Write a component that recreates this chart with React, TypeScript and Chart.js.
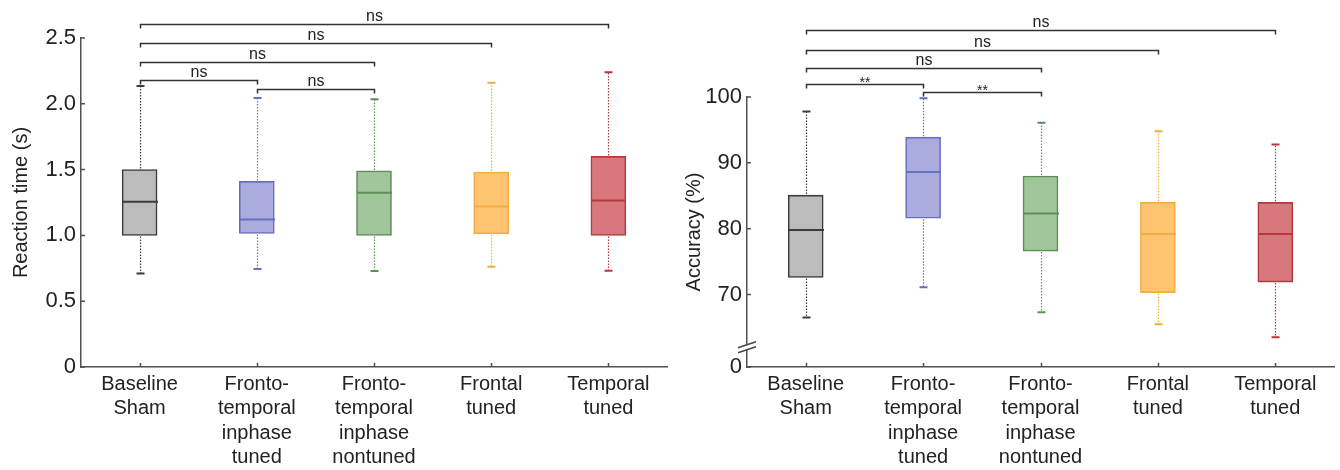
import React, { useEffect, useRef } from 'react';
import { Chart, registerables } from 'chart.js';
Chart.register(...registerables);

// ---------- data ----------
const categories: string[][] = [
  ['Baseline', 'Sham'],
  ['Fronto-', 'temporal', 'inphase', 'tuned'],
  ['Fronto-', 'temporal', 'inphase', 'nontuned'],
  ['Frontal', 'tuned'],
  ['Temporal', 'tuned'],
];

const fillColors = ['#bcbcbc', '#a9acdc', '#a2c69c', '#fec470', '#d9787c'];
const lineColors = ['#3c3c3c', '#6a6ebf', '#5e8f57', '#f3ad40', '#b5393f'];

// Reaction time (s)
const rtMin = [0.71, 0.745, 0.73, 0.762, 0.732];
const rtQ1 = [1.0, 1.015, 1.0, 1.012, 1.0];
const rtMedian = [1.255, 1.12, 1.325, 1.22, 1.265];
const rtQ3 = [1.5, 1.41, 1.49, 1.482, 1.6];
const rtMax = [2.135, 2.045, 2.035, 2.16, 2.24];
const rtTickValues = [0, 0.5, 1.0, 1.5, 2.0, 2.5];
const rtTickLabels = ['0', '0.5', '1.0', '1.5', '2.0', '2.5'];
const rtBracketFrom = [0, 0, 0, 0, 1];
const rtBracketTo = [4, 3, 2, 1, 2];
const rtBracketLevel = [2.606, 2.462, 2.318, 2.181, 2.112];
const rtBracketText = ['ns', 'ns', 'ns', 'ns', 'ns'];

// Accuracy (%)
const accMin = [66.5, 71.1, 67.3, 65.5, 63.5];
const accQ1 = [72.6, 81.6, 76.6, 70.3, 71.9];
const accMedian = [79.8, 88.6, 82.3, 79.2, 79.2];
const accQ3 = [85.1, 93.9, 88.0, 84.0, 84.0];
const accMax = [97.8, 99.8, 96.1, 94.8, 92.8];
const accTickValues = [59, 70, 80, 90, 100];
const accTickLabels = ['0', '70', '80', '90', '100'];
const accBreakValue = 62;
const accBracketFrom = [0, 0, 0, 0, 1];
const accBracketTo = [4, 3, 2, 1, 2];
const accBracketLevel = [110.1, 107.2, 104.4, 101.9, 100.8];
const accBracketText = ['ns', 'ns', 'ns', '**', '**'];

// ---------- chart ----------
const FONT = "'Liberation Sans', Arial, sans-serif";
const AXIS_COLOR = '#505050';
const TEXT_COLOR = '#222222';

type PanelProps = {
  left: number;
  title: string;
  q1: number[];
  q3: number[];
  median: number[];
  lo: number[];
  hi: number[];
  tickValues: number[];
  tickLabels: string[];
  yMin: number;
  yMax: number;
  bFrom: number[];
  bTo: number[];
  bLevel: number[];
  bText: string[];
  breakValue: number | null;
  axisX: number;
  padTop: number;
  padRight: number;
  titlePad: number;
};

function BoxPanel(p: PanelProps) {
  const ref = useRef<HTMLCanvasElement | null>(null);
  useEffect(() => {
    const canvas = ref.current;
    if (!canvas) return;
    const BOX_W = 35;
    const boxPlugin = {
      id: 'boxDecor',
      afterDatasetsDraw(chart: any) {
        const { ctx } = chart;
        const xs = chart.scales.x;
        const ys = chart.scales.y;
        ctx.save();
        for (let i = 0; i < p.q1.length; i++) {
          const x = Math.round(xs.getPixelForValue(i)) + 0.5;
          const col = lineColors[i];
          const yq1 = ys.getPixelForValue(p.q1[i]);
          const yq3 = ys.getPixelForValue(p.q3[i]);
          const ylo = ys.getPixelForValue(p.lo[i]);
          const yhi = ys.getPixelForValue(p.hi[i]);
          const ymed = ys.getPixelForValue(p.median[i]);
          // whiskers (dotted)
          ctx.strokeStyle = col;
          ctx.lineWidth = 1.2;
          ctx.setLineDash([1.5, 1.5]);
          ctx.beginPath();
          ctx.moveTo(x, yq3 - 1);
          ctx.lineTo(x, yhi);
          ctx.moveTo(x, yq1 + 1);
          ctx.lineTo(x, ylo);
          ctx.stroke();
          ctx.setLineDash([]);
          // caps
          ctx.lineWidth = 2;
          ctx.beginPath();
          ctx.moveTo(x - 4, yhi);
          ctx.lineTo(x + 4, yhi);
          ctx.moveTo(x - 4, ylo);
          ctx.lineTo(x + 4, ylo);
          ctx.stroke();
          // median
          ctx.lineWidth = 2;
          ctx.beginPath();
          ctx.moveTo(x - BOX_W / 2, ymed);
          ctx.lineTo(x + BOX_W / 2, ymed);
          ctx.stroke();
        }
        ctx.restore();
      },
      afterDraw(chart: any) {
        const { ctx } = chart;
        const xs = chart.scales.x;
        const ys = chart.scales.y;
        const area = chart.chartArea;
        ctx.save();
        // inward ticks
        ctx.strokeStyle = AXIS_COLOR;
        ctx.lineWidth = 1.5;
        ctx.beginPath();
        for (const v of p.tickValues) {
          const y = ys.getPixelForValue(v);
          ctx.moveTo(area.left, y);
          ctx.lineTo(area.left + 4, y);
        }
        for (let i = 0; i < p.q1.length; i++) {
          const x = Math.round(xs.getPixelForValue(i)) + 0.5;
          ctx.moveTo(x, area.bottom);
          ctx.lineTo(x, area.bottom - 4);
        }
        ctx.stroke();
        // axis break
        if (p.breakValue !== null) {
          const yb = ys.getPixelForValue(p.breakValue);
          ctx.fillStyle = '#ffffff';
          ctx.fillRect(area.left - 2, yb - 2, 4, 4);
          ctx.strokeStyle = '#444444';
          ctx.lineWidth = 1.5;
          ctx.beginPath();
          for (const d of [-2.5, 2.5]) {
            ctx.moveTo(area.left - 9, yb + d + 3);
            ctx.lineTo(area.left + 9, yb + d - 3);
          }
          ctx.stroke();
        }
        // significance brackets
        ctx.strokeStyle = '#333333';
        ctx.fillStyle = TEXT_COLOR;
        ctx.lineWidth = 1.5;
        ctx.textAlign = 'center';
        ctx.textBaseline = 'alphabetic';
        for (let k = 0; k < p.bFrom.length; k++) {
          const xa = Math.round(xs.getPixelForValue(p.bFrom[k])) + 0.5;
          const xb = Math.round(xs.getPixelForValue(p.bTo[k])) + 0.5;
          const y = Math.round(ys.getPixelForValue(p.bLevel[k])) + 0.5;
          ctx.beginPath();
          ctx.moveTo(xa, y + 4);
          ctx.lineTo(xa, y);
          ctx.lineTo(xb, y);
          ctx.lineTo(xb, y + 4);
          ctx.stroke();
          const isStar = p.bText[k].indexOf('*') >= 0;
          ctx.font = `${isStar ? 14 : 16}px ${FONT}`;
          ctx.fillText(p.bText[k], (xa + xb) / 2, isStar ? y + 2 : y - 4);
        }
        ctx.restore();
      },
    };

    const chart = new Chart(canvas, {
      type: 'bar',
      data: {
        labels: categories,
        datasets: [
          {
            data: p.q1.map((v, i) => [v, p.q3[i]]),
            backgroundColor: fillColors,
            borderColor: lineColors,
            borderWidth: 1.6,
            borderSkipped: false,
            barThickness: BOX_W,
          } as any,
        ],
      },
      options: {
        responsive: false,
        animation: false,
        events: [],
        layout: { padding: { top: p.padTop, right: p.padRight, left: 0, bottom: 0 } },
        plugins: { legend: { display: false }, tooltip: { enabled: false } },
        scales: {
          x: {
            grid: { display: false, drawTicks: false },
            border: { display: true, color: AXIS_COLOR, width: 1.5 },
            ticks: {
              font: { family: FONT, size: 20, lineHeight: 1.22 },
              color: TEXT_COLOR,
              padding: 5,
              maxRotation: 0,
              minRotation: 0,
              autoSkip: false,
            },
            afterFit: (s: any) => {
              s.height = 103;
            },
          },
          y: {
            min: p.yMin,
            max: p.yMax,
            grid: { display: false, drawTicks: false },
            border: { display: true, color: AXIS_COLOR, width: 1.5 },
            afterBuildTicks: (s: any) => {
              s.ticks = p.tickValues.map((v) => ({ value: v }));
            },
            ticks: {
              font: { family: FONT, size: 22 },
              color: TEXT_COLOR,
              padding: 5,
              callback: (_v: any, idx: number) => p.tickLabels[idx],
            },
            title: {
              display: true,
              text: p.title,
              font: { family: FONT, size: 20 },
              color: TEXT_COLOR,
              padding: { top: p.titlePad, bottom: 0 },
            },
            afterFit: (s: any) => {
              s.width = p.axisX;
            },
          },
        },
      } as any,
      plugins: [boxPlugin],
    });
    return () => chart.destroy();
  }, []);
  return (
    <div style={{ position: 'absolute', left: p.left, top: 0, width: 670, height: 470 }}>
      <canvas ref={ref} width={670} height={470} style={{ display: 'block' }} />
    </div>
  );
}

export default function App() {
  return (
    <div style={{ position: 'absolute', left: 0, top: 0, width: 1340, height: 470, background: '#fff' }}>
      <BoxPanel
        left={0}
        title="Reaction time (s)"
        q1={rtQ1}
        q3={rtQ3}
        median={rtMedian}
        lo={rtMin}
        hi={rtMax}
        tickValues={rtTickValues}
        tickLabels={rtTickLabels}
        yMin={0}
        yMax={2.5}
        bFrom={rtBracketFrom}
        bTo={rtBracketTo}
        bLevel={rtBracketLevel}
        bText={rtBracketText}
        breakValue={null}
        axisX={81}
        padTop={38}
        padRight={3}
        titlePad={9}
      />
      <BoxPanel
        left={670}
        title="Accuracy (%)"
        q1={accQ1}
        q3={accQ3}
        median={accMedian}
        lo={accMin}
        hi={accMax}
        tickValues={accTickValues}
        tickLabels={accTickLabels}
        yMin={59}
        yMax={100}
        bFrom={accBracketFrom}
        bTo={accBracketTo}
        bLevel={accBracketLevel}
        bText={accBracketText}
        breakValue={accBreakValue}
        axisX={77}
        padTop={97}
        padRight={6}
        titlePad={12}
      />
    </div>
  );
}
